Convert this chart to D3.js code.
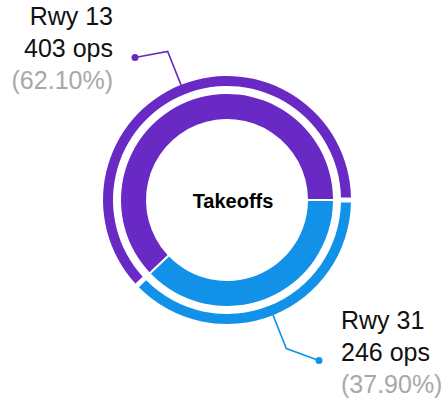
<!DOCTYPE html>
<html>
<head>
<meta charset="utf-8">
<script src="https://cdn.jsdelivr.net/npm/d3@7"></script>
<style>
  body { margin: 0; background: #fff; }
  svg text { font-family: "Liberation Sans", Arial, sans-serif; }
</style>
</head>
<body>
<script>
// data
var runways = ['Rwy 13', 'Rwy 31'];
var ops = [403, 246];
var percents = ['62.10%', '37.90%'];
var colors = ['#6929c4', '#1192e8'];
var centerLabel = 'Takeoffs';

function draw_donut(){
  var width = 448,
      height = 404,
      cx = 227,
      cy = 200;

  var data = runways.map(function(r, i) {
    return { name: r, value: ops[i], pct: percents[i], color: colors[i] };
  });

  // start at 3 o'clock, Rwy 13 runs counter-clockwise over the top
  var pie = d3.pie()
    .sort(null)
    .value(function(d) { return d.value; })
    .startAngle(Math.PI / 2)
    .endAngle(Math.PI / 2 - 2 * Math.PI);

  var arcs = pie(data);

  var innerArc = d3.arc().innerRadius(81).outerRadius(106).padAngle(0.016);
  var outerArc = d3.arc().innerRadius(114).outerRadius(124).padAngle(0.03);

  var svg = d3.select('body').append('svg')
    .attr('width', width)
    .attr('height', height)
    .attr('id', 'donut');

  var g = svg.append('g').attr('transform', 'translate(' + cx + ',' + cy + ')');

  g.selectAll('path.inner')
    .data(arcs)
    .enter().append('path')
    .attr('class', 'inner')
    .attr('d', innerArc)
    .style('fill', function(d) { return d.data.color; });

  g.selectAll('path.outer')
    .data(arcs)
    .enter().append('path')
    .attr('class', 'outer')
    .attr('d', outerArc)
    .style('fill', function(d) { return d.data.color; });

  g.append('text')
    .attr('x', 6)
    .attr('y', 8)
    .attr('text-anchor', 'middle')
    .style('font-size', '20px')
    .style('font-weight', 'bold')
    .style('fill', '#000')
    .text(centerLabel);

  // label edges: left side labels end at 113, right side start at 341
  var labelEdge = { left: 113 - cx, right: 341 - cx };
  var lineH = 32;

  arcs.forEach(function(d) {
    var mid = (d.startAngle + d.endAngle) / 2;
    var sx = Math.sin(mid), sy = -Math.cos(mid);
    var left = sx < 0;
    var p0 = [sx * 124, sy * 124],
        p1 = [sx * 160, sy * 160];
    var edge = left ? labelEdge.left : labelEdge.right;
    var p2 = [edge + (left ? 22 : -22), p1[1] + (left ? 6 : 12)];

    g.append('polyline')
      .attr('points', [p0, p1, p2].map(function(p) { return p.join(','); }).join(' '))
      .style('fill', 'none')
      .style('stroke', d.data.color)
      .style('stroke-width', 1.6);

    g.append('circle')
      .attr('cx', p2[0])
      .attr('cy', p2[1])
      .attr('r', 3.5)
      .style('fill', d.data.color);

    var t = g.append('text')
      .attr('text-anchor', left ? 'end' : 'start')
      .style('font-size', '25px');

    var lines = [
      { txt: d.data.name, fill: '#111' },
      { txt: d.data.value + ' ops', fill: '#111' },
      { txt: '(' + d.data.pct + ')', fill: '#a8a8a8' }
    ];
    lines.forEach(function(l, i) {
      t.append('tspan')
        .attr('x', edge)
        .attr('y', p2[1] + (i - 1) * lineH)
        .style('fill', l.fill)
        .text(l.txt);
    });
  });
}

draw_donut();
</script>
</body>
</html>
